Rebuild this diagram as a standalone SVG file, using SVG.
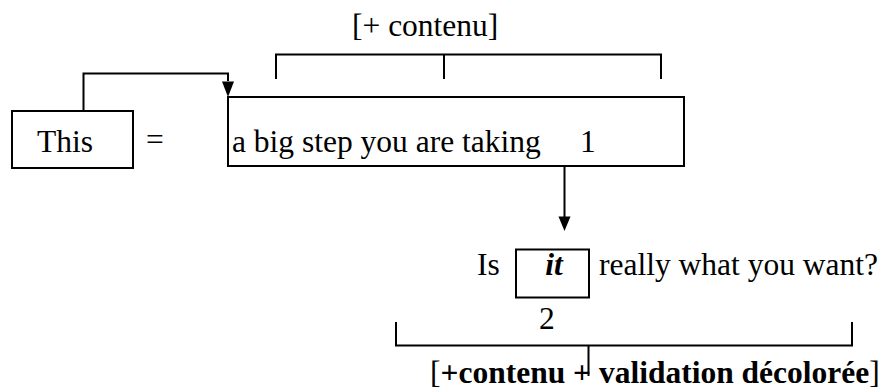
<svg xmlns="http://www.w3.org/2000/svg" width="893" height="391" viewBox="0 0 893 391">
<defs>
<style>
.t{font-family:"Liberation Serif","Times New Roman",serif;font-size:31.5px;fill:#000}
.b{font-weight:bold}
.box{fill:#fff;stroke:#000;stroke-width:2}
.ln{fill:none;stroke:#000;stroke-width:2}
.ah{fill:#000}
</style>
</defs>
<rect width="893" height="391" fill="#fff"/>
<g id="connectors">
<path class="ln" d="M83.5,111 V73.5 H228 V81" />
<path class="ah" d="M222,81.5 L234,81.5 L228,97 Z"/>
<path class="ln" d="M564.5,166 V217" />
<path class="ah" d="M558.5,216.5 L570.5,216.5 L564.5,231 Z"/>
<path class="ln" d="M276,79 V54.5 H661 V79 M444,54.5 V79" />
<path class="ln" d="M396,322 V345.5 H852 V322 M588.5,345.5 V376" />
</g>
<g id="node-this">
<rect class="box" x="12" y="111" width="121" height="57"/>
<text class="t" x="37" y="152">This</text>
</g>
<g id="node-equals">
<text class="t" x="146" y="150">=</text>
</g>
<g id="node-step">
<rect class="box" x="228" y="97" width="456" height="69"/>
<text class="t" x="232" y="152">a big step you are taking</text>
<text class="t" x="580" y="152">1</text>
</g>
<g id="node-contenu">
<text class="t" x="352" y="36">[+ contenu]</text>
</g>
<g id="node-question">
<text class="t" x="477" y="275">Is</text>
<rect class="box" x="516" y="249.5" width="73" height="48"/>
<text class="t b" x="554" y="275" font-style="italic" text-anchor="middle">it</text>
<text class="t" x="599" y="275">really what you want?</text>
<text class="t" x="539" y="329">2</text>
</g>
<g id="node-validation">
<text class="t" x="430" y="383">[<tspan class="b">+contenu +  validation décolorée</tspan>]</text>
</g>
</svg>
